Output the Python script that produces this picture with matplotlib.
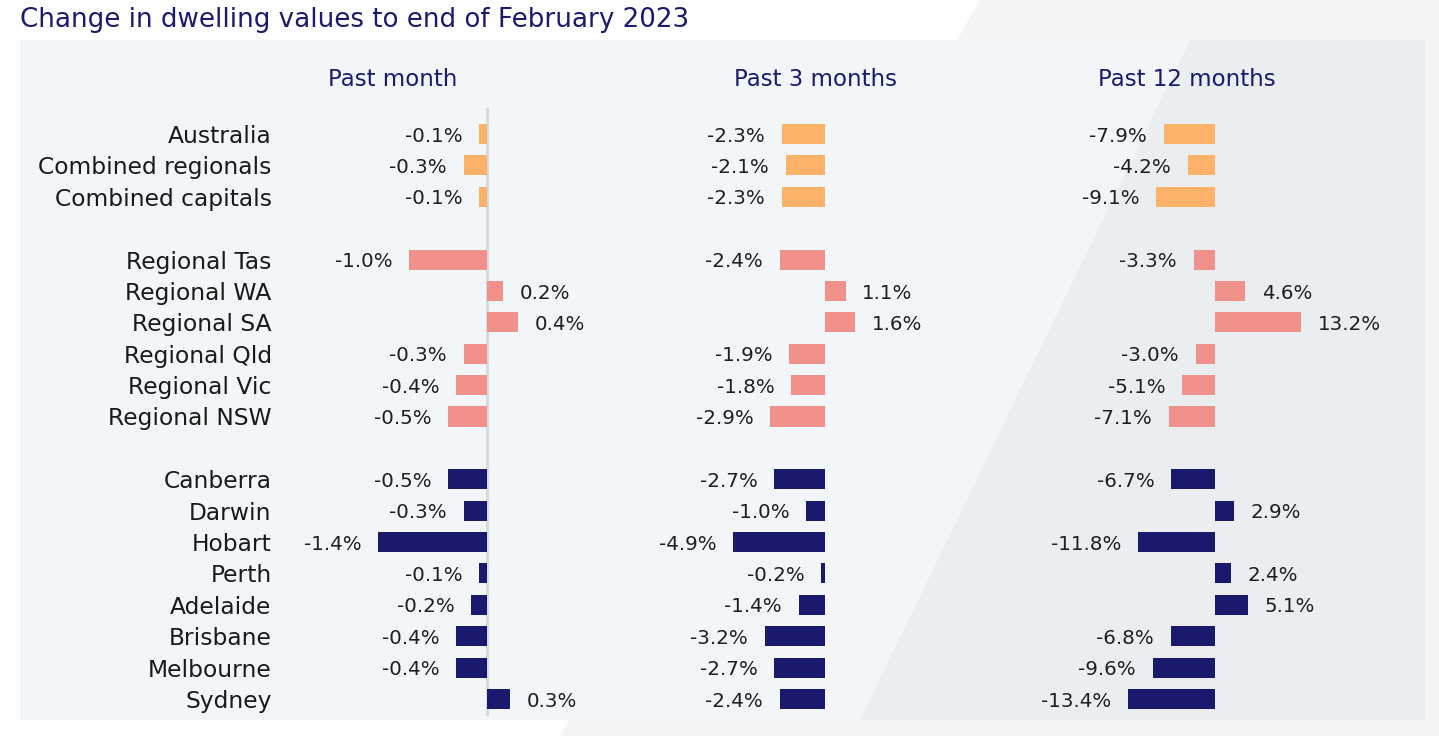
import numpy as np
import matplotlib.pyplot as plt
from matplotlib.patches import Rectangle, Polygon

# Данные
regions = ['Australia', 'Combined regionals', 'Combined capitals',
           'Regional Tas', 'Regional WA', 'Regional SA', 'Regional Qld', 'Regional Vic', 'Regional NSW',
           'Canberra', 'Darwin', 'Hobart', 'Perth', 'Adelaide', 'Brisbane', 'Melbourne', 'Sydney']
groups = [0, 0, 0, 1, 1, 1, 1, 1, 1, 2, 2, 2, 2, 2, 2, 2, 2]
past_month = [-0.1, -0.3, -0.1, -1.0, 0.2, 0.4, -0.3, -0.4, -0.5,
              -0.5, -0.3, -1.4, -0.1, -0.2, -0.4, -0.4, 0.3]
past_3m = [-2.3, -2.1, -2.3, -2.4, 1.1, 1.6, -1.9, -1.8, -2.9,
           -2.7, -1.0, -4.9, -0.2, -1.4, -3.2, -2.7, -2.4]
past_12m = [-7.9, -4.2, -9.1, -3.3, 4.6, 13.2, -3.0, -5.1, -7.1,
            -6.7, 2.9, -11.8, 2.4, 5.1, -6.8, -9.6, -13.4]
panel_titles = ['Past month', 'Past 3 months', 'Past 12 months']

group_colors = ['#fdb26a', '#f0918c', '#1b196e']
navy = '#1b1a6e'
font = 'DejaVu Sans'

W, H = 1439, 736
fig = plt.figure(figsize=(W / 100, H / 100), dpi=100)
fig.patch.set_facecolor('white')

def fx(px):
    return px / W

def fy(py):
    return 1 - py / H

# фон
fig.patches.append(Polygon([(fx(980), fy(0)), (fx(W), fy(0)), (fx(W), fy(H)), (fx(560), fy(H))],
                           closed=True, transform=fig.transFigure, facecolor='#f4f4f4',
                           edgecolor='none', zorder=-3))
fig.patches.append(Rectangle((fx(20), fy(720)), fx(1425) - fx(20), fy(40) - fy(720),
                             transform=fig.transFigure, facecolor='#f3f6f8', edgecolor='none', zorder=-2))
fig.patches.append(Polygon([(fx(1190), fy(40)), (fx(1425), fy(40)), (fx(1425), fy(720)), (fx(860), fy(720))],
                           closed=True, transform=fig.transFigure, facecolor='#e9ebed',
                           edgecolor='none', zorder=-1, alpha=0.7))

fig.text(fx(20), fy(20), 'Change in dwelling values to end of February 2023', color=navy,
         fontsize=18.8, family=font, ha='left', va='center')

# позиции строк с промежутками между группами
ypos = np.array([i + g for i, g in enumerate(groups)], dtype=float)

# (лево, право, ноль px, px на 1%)
layout = [(280, 640, 487, 78.0), (650, 1010, 825, 18.8), (1020, 1420, 1215, 6.5)]
data = [past_month, past_3m, past_12m]
top_px, bot_px, row0_px, row_step = 108, 716, 134, 31.4

for k, (vals, (l, r, z, scale)) in enumerate(zip(data, layout)):
    ax = fig.add_axes([fx(l), fy(bot_px), fx(r) - fx(l), fy(top_px) - fy(bot_px)])
    ax.set_facecolor('none')
    ax.set_xlim((l - z) / scale, (r - z) / scale)
    ax.set_ylim(18 + (bot_px - 699) / row_step, -(row0_px - top_px) / row_step)
    colors = [group_colors[g] for g in groups]
    ax.barh(ypos, vals, height=0.64, color=colors, zorder=2)
    for y, v in zip(ypos, vals):
        if v < 0:
            ax.annotate(f'{v:.1f}%', (v, y), xytext=(-12, -1.5), textcoords='offset points',
                        ha='right', va='center', fontsize=14.3, family=font, color='#1f1f1f')
        else:
            ax.annotate(f'{v:.1f}%', (v, y), xytext=(12, -1.5), textcoords='offset points',
                        ha='left', va='center', fontsize=14.3, family=font, color='#1f1f1f')
    for s in ax.spines.values():
        s.set_visible(False)
    ax.set_xticks([])
    if k == 0:
        ax.axvline(0, color='#d5d8db', lw=2, zorder=1)
        ax.set_yticks(ypos)
        ax.set_yticklabels(regions, family=font, fontsize=16.8, color='#1a1a1a')
        ax.tick_params(axis='y', length=0, pad=6)
        for t in ax.get_yticklabels():
            t.set_y(t.get_position()[1])
    else:
        ax.set_yticks([])
    fig.text(fx([393, 815, 1187][k]), fy(80), panel_titles[k], color=navy, fontsize=16.5,
             family=font, ha='center', va='center')

fig.savefig('out.png', dpi=100, facecolor=fig.get_facecolor())
